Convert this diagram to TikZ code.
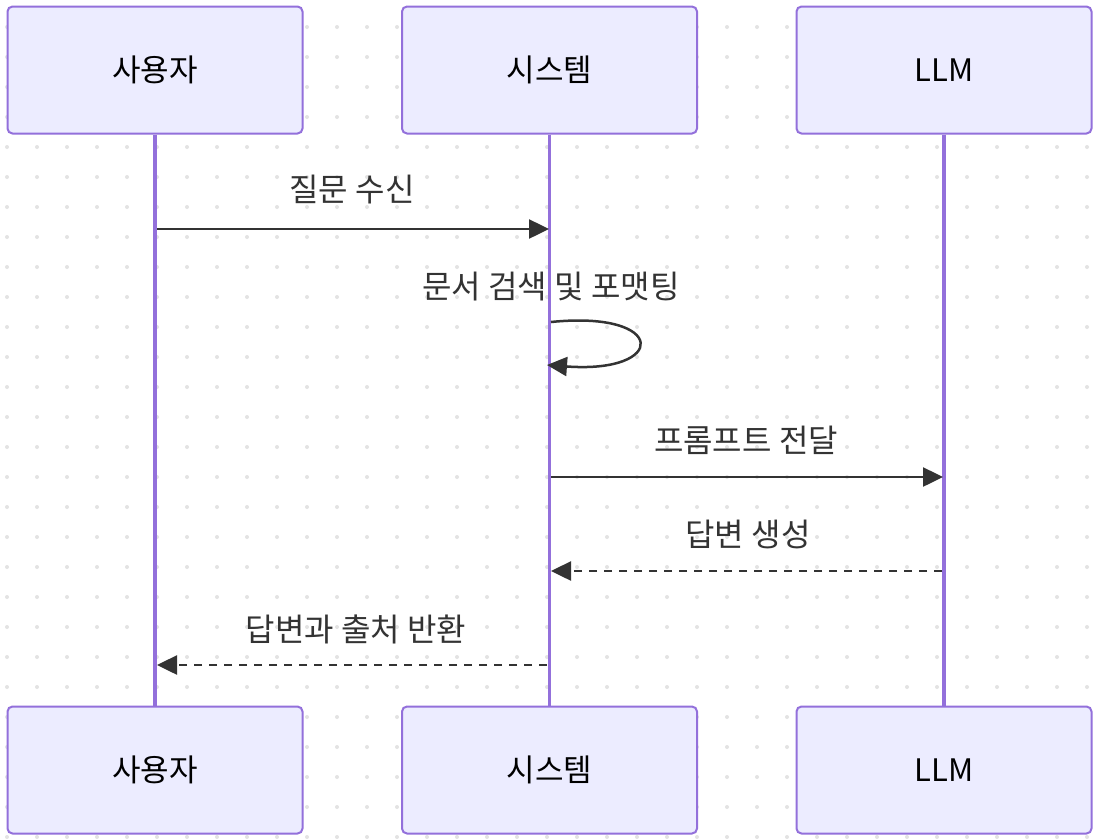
\documentclass[tikz,border=0pt]{standalone}
\usepackage{fontspec}
\setmainfont{Noto Sans CJK KR}
\usepackage{tikz}
\usetikzlibrary{arrows.meta,
    positioning}

\definecolor{actorfill}{HTML}{ECECFF}
\definecolor{actorline}{HTML}{9370DB}
\definecolor{msgline}{HTML}{333333}
\definecolor{griddot}{HTML}{E3E3E3}

\tikzset{
    actorbox/.style={draw=actorline, fill=actorfill, line width=2pt,
        rounded corners=5pt, minimum width=295pt, minimum height=127pt,
        inner sep=0pt, font=\fontsize{31}{36}\selectfont, text=black},
    lifeline/.style={draw=actorline, line width=3.5pt},
    msg/.style={draw=msgline, line width=2.5pt,
        -{Triangle[length=20pt,width=19pt]}},
    reply/.style={msg, dash pattern=on 8pt off 7pt},
    msglabel/.style={font=\fontsize{32}{36}\selectfont, text=msgline}
}

\begin{document}
\begin{tikzpicture}[x=1pt,y=-1pt]
                  \useasboundingbox (0,0) rectangle (1098,839);
                  \fill[white] (0,0) rectangle (1098,839);
                  % dotted background
                  \foreach \i in {0,...,36}
                      \foreach \j in {0,...,27}
                          \fill[griddot] (7+30*\i,27+30*\j) circle (2pt);
                  % actors
                  \node[actorbox] (user top) at (155,70) {사용자};
                  \node[actorbox] (sys top) at (549.5,70) {시스템};
                  \node[actorbox] (llm top) at (944,70) {LLM};
                  \node[actorbox] (user bot) at (155,770) {사용자};
                  \node[actorbox] (sys bot) at (549.5,770) {시스템};
                  \node[actorbox] (llm bot) at (944,770) {LLM};
                  \draw[lifeline] (user top.south) -- (user bot.north);
                  \draw[lifeline] (sys top.south) -- (sys bot.north);
                  \draw[lifeline] (llm top.south) -- (llm bot.north);
                  % message ends on the lifelines
                  \coordinate (q1) at (157,229);
                  \coordinate (q2) at (549,229);
                  \coordinate (s1) at (551,322);
                  \coordinate (s2) at (547,365);
                  \coordinate (p1) at (551,477);
                  \coordinate (p2) at (943,477);
                  \coordinate (a1) at (942,571);
                  \coordinate (a2) at (551,571);
                  \coordinate (r1) at (547,665);
                  \coordinate (r2) at (157,665);
                  % messages
                  \draw[msg] (q1) -- (q2);
                  \node[msglabel] (q label) at (352,190) {질문 수신};
                  \draw[msg] (s1) .. controls (668,310) and (668,374) .. (s2);
                  \node[msglabel] (s label) at (551,287) {문서 검색 및 포맷팅};
                  \draw[msg] (p1) -- (p2);
                  \node[msglabel] (p label) at (746,440) {프롬프트 전달};
                  \draw[reply] (a1) -- (a2);
                  \node[msglabel] (a label) at (748,534) {답변 생성};
                  \draw[reply] (r1) -- (r2);
                  \node[msglabel] (r label) at (356,629) {답변과 출처 반환};
              \end{tikzpicture}
\end{document}
